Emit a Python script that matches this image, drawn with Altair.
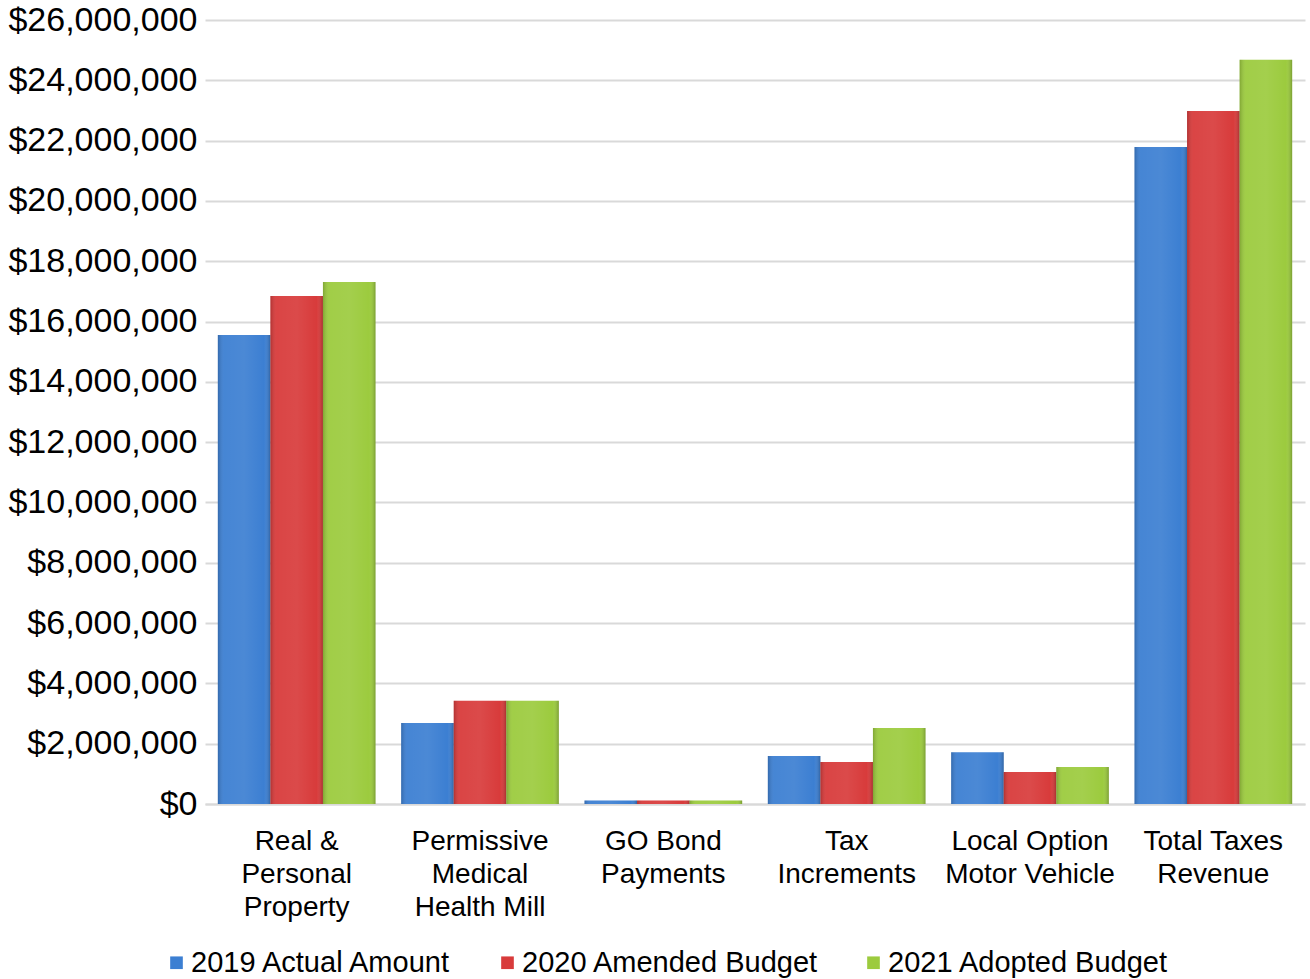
import altair as alt
import pandas as pd

categories = ["Real &|Personal|Property", "Permissive|Medical|Health Mill", "GO Bond|Payments",
              "Tax|Increments", "Local Option|Motor Vehicle", "Total Taxes|Revenue"]
series = ["2019 Actual Amount", "2020 Amended Budget", "2021 Adopted Budget"]
actual_2019 = [15550000, 2690000, 120000, 1590000, 1720000, 21790000]
amended_2020 = [16850000, 3420000, 120000, 1390000, 1060000, 22980000]
adopted_2021 = [17310000, 3420000, 120000, 2520000, 1230000, 24680000]
colors = ["#3C7FD2", "#D83B3B", "#9CCB3E"]
y_ticks = list(range(0, 26000001, 2000000))

rows = []
for s, vals in zip(series, [actual_2019, amended_2020, adopted_2021]):
    for c, v in zip(categories, vals):
        rows.append({"Category": c, "Series": s, "Value": v})
df = pd.DataFrame(rows)

FONT = "Liberation Sans"

x_enc = alt.X("Category:N", sort=categories,
              scale=alt.Scale(paddingInner=0.14, paddingOuter=0.07),
              axis=alt.Axis(title=None, labelAngle=0, labelExpr="split(datum.label, '|')",
                            labelFontSize=28, labelColor="#000000", labelFont=FONT,
                            labelLineHeight=33, labelPadding=23, labelBaseline="top",
                            domainColor="#D9D9D9", domainWidth=2, ticks=False, grid=False))
xo_enc = alt.XOffset("Series:N", sort=series, scale=alt.Scale(paddingInner=0, paddingOuter=0))
y_enc = alt.Y("Value:Q", scale=alt.Scale(domain=[0, 26000000], nice=False),
              axis=alt.Axis(title=None, values=y_ticks, format="$,.0f", labelFontSize=34,
                            labelColor="#000000", labelFont=FONT, labelPadding=8, labelLimit=0,
                            domain=False, ticks=False, gridColor="#D9D9D9", gridWidth=2))

base = alt.Chart(df).mark_bar().encode(
    x=x_enc, xOffset=xo_enc, y=y_enc,
    color=alt.Color("Series:N", sort=series,
                    scale=alt.Scale(domain=series, range=colors),
                    legend=alt.Legend(title=None, orient="none", legendX=-43, legendY=928,
                                      direction="horizontal", symbolType="square",
                                      symbolSize=160, symbolStrokeWidth=0, padding=0,
                                      labelFontSize=29, labelFont=FONT, labelColor="#000000",
                                      labelOffset=0, columnPadding=40, labelLimit=0)),
)

shine = alt.Chart(df).mark_bar(
    fill=alt.Gradient(gradient="linear", x1=0, x2=1, y1=0, y2=0, stops=[
        alt.GradientStop(offset=0, color="rgba(0,0,0,0.18)"),
        alt.GradientStop(offset=0.12, color="rgba(255,255,255,0.05)"),
        alt.GradientStop(offset=0.5, color="rgba(255,255,255,0.08)"),
        alt.GradientStop(offset=0.88, color="rgba(255,255,255,0.0)"),
        alt.GradientStop(offset=1, color="rgba(0,0,0,0.22)"),
    ])
).encode(x=x_enc, xOffset=xo_enc, y=y_enc)

chart = alt.layer(base, shine).properties(
    width=1100, height=784,
    padding={"left": 205, "top": 20, "right": 5, "bottom": 175},
    autosize=alt.AutoSizeParams(type="none"),
).configure(font=FONT).configure_view(stroke="transparent", strokeWidth=0)

chart.save("out.html", embed_options={"renderer": "svg", "actions": False})
